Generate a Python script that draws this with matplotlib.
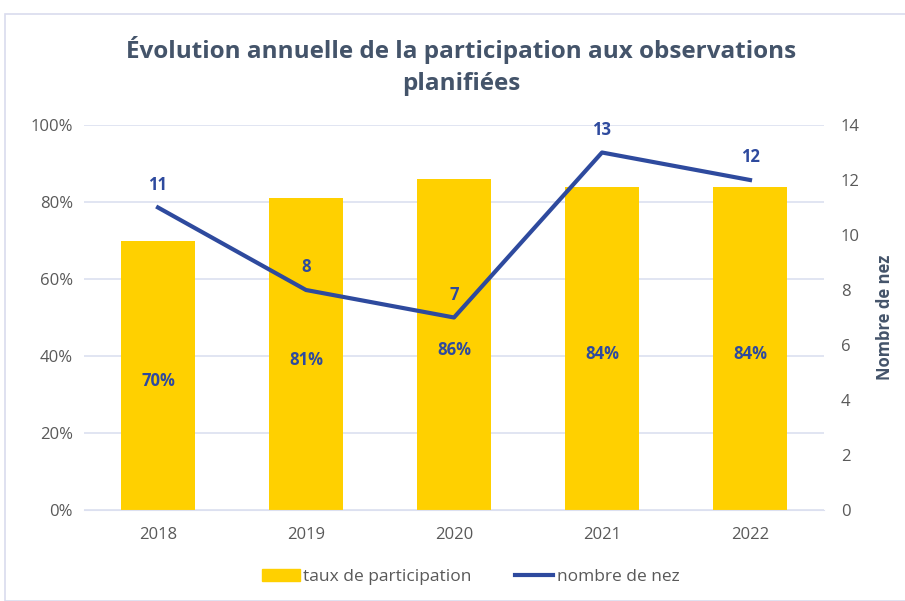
import matplotlib.pyplot as plt
from matplotlib.patches import Rectangle
from matplotlib.lines import Line2D
from matplotlib.ticker import PercentFormatter

plt.rcParams['font.family'] = ['Open Sans', 'DejaVu Sans']

years = ['2018', '2019', '2020', '2021', '2022']
taux = [0.70, 0.81, 0.86, 0.84, 0.84]
nez = [11, 8, 7, 13, 12]

gold = '#FFD000'
blue = '#2E4A9E'
grey = '#595959'
title_col = '#44546A'
grid_col = '#DCE0F0'

fig = plt.figure(figsize=(9.05, 6.01), dpi=100)
fig.patches.append(Rectangle((5 / 905, 0), 1, 1 - 14 / 601, transform=fig.transFigure,
                             fill=False, edgecolor='#D9DCEE', linewidth=1.2))

ax = fig.add_axes([84 / 905, 1 - 510 / 601, 740 / 905, 385 / 601])
x = range(len(years))
ax.bar(x, taux, width=0.5, color=gold, zorder=2)
ax.set_xlim(-0.5, len(years) - 0.5)
ax.set_ylim(0, 1)
ax.set_yticks([0, 0.2, 0.4, 0.6, 0.8, 1.0])
ax.yaxis.set_major_formatter(PercentFormatter(1.0, decimals=0))
ax.set_xticks(list(x))
ax.set_xticklabels(years)
ax.grid(axis='y', color=grid_col, linewidth=1.2, zorder=0)
for s in ax.spines.values():
    s.set_visible(False)
ax.spines['bottom'].set_visible(True)
ax.spines['bottom'].set_color(grid_col)
ax.tick_params(length=0, labelsize=12, colors=grey, pad=8)
ax.tick_params(axis='x', pad=12)

# étiquettes des barres
for i, v in enumerate(taux):
    ax.annotate(f'{round(v * 100)}%', (i, v / 2), xytext=(0, -4), textcoords='offset points',
                ha='center', va='center', fontsize=12, fontweight='bold', color=blue, zorder=4)

ax2 = ax.twinx()
ax2.plot(x, nez, color=blue, linewidth=3, zorder=3)
ax2.set_ylim(0, 14)
ax2.set_yticks(range(0, 15, 2))
for s in ax2.spines.values():
    s.set_visible(False)
ax2.tick_params(length=0, labelsize=12, colors=grey, pad=12)
ax2.set_ylabel('Nombre de nez', fontsize=12, fontweight='bold', color=title_col, labelpad=12)
for i, v in enumerate(nez):
    ax2.annotate(str(v), (i, v), xytext=(0, 10), textcoords='offset points',
                 ha='center', va='bottom', fontsize=12, fontweight='bold', color=blue)

fig.text(0.51, 1 - 66 / 601, 'Évolution annuelle de la participation aux observations\nplanifiées',
         ha='center', va='center', fontsize=17.5, fontweight='bold', color=title_col,
         linespacing=1.4)

handles = [Rectangle((0, 0), 1, 1, color=gold),
           Line2D([0], [0], color=blue, linewidth=3)]
fig.legend(handles, ['taux de participation', 'nombre de nez'], loc='center',
           bbox_to_anchor=(0.52, 1 - 577 / 601), ncol=2, frameon=False,
           fontsize=12.5, labelcolor=grey, handlelength=2.2, handletextpad=0.2,
           columnspacing=2.5)

fig.savefig('out.png', dpi=100)
